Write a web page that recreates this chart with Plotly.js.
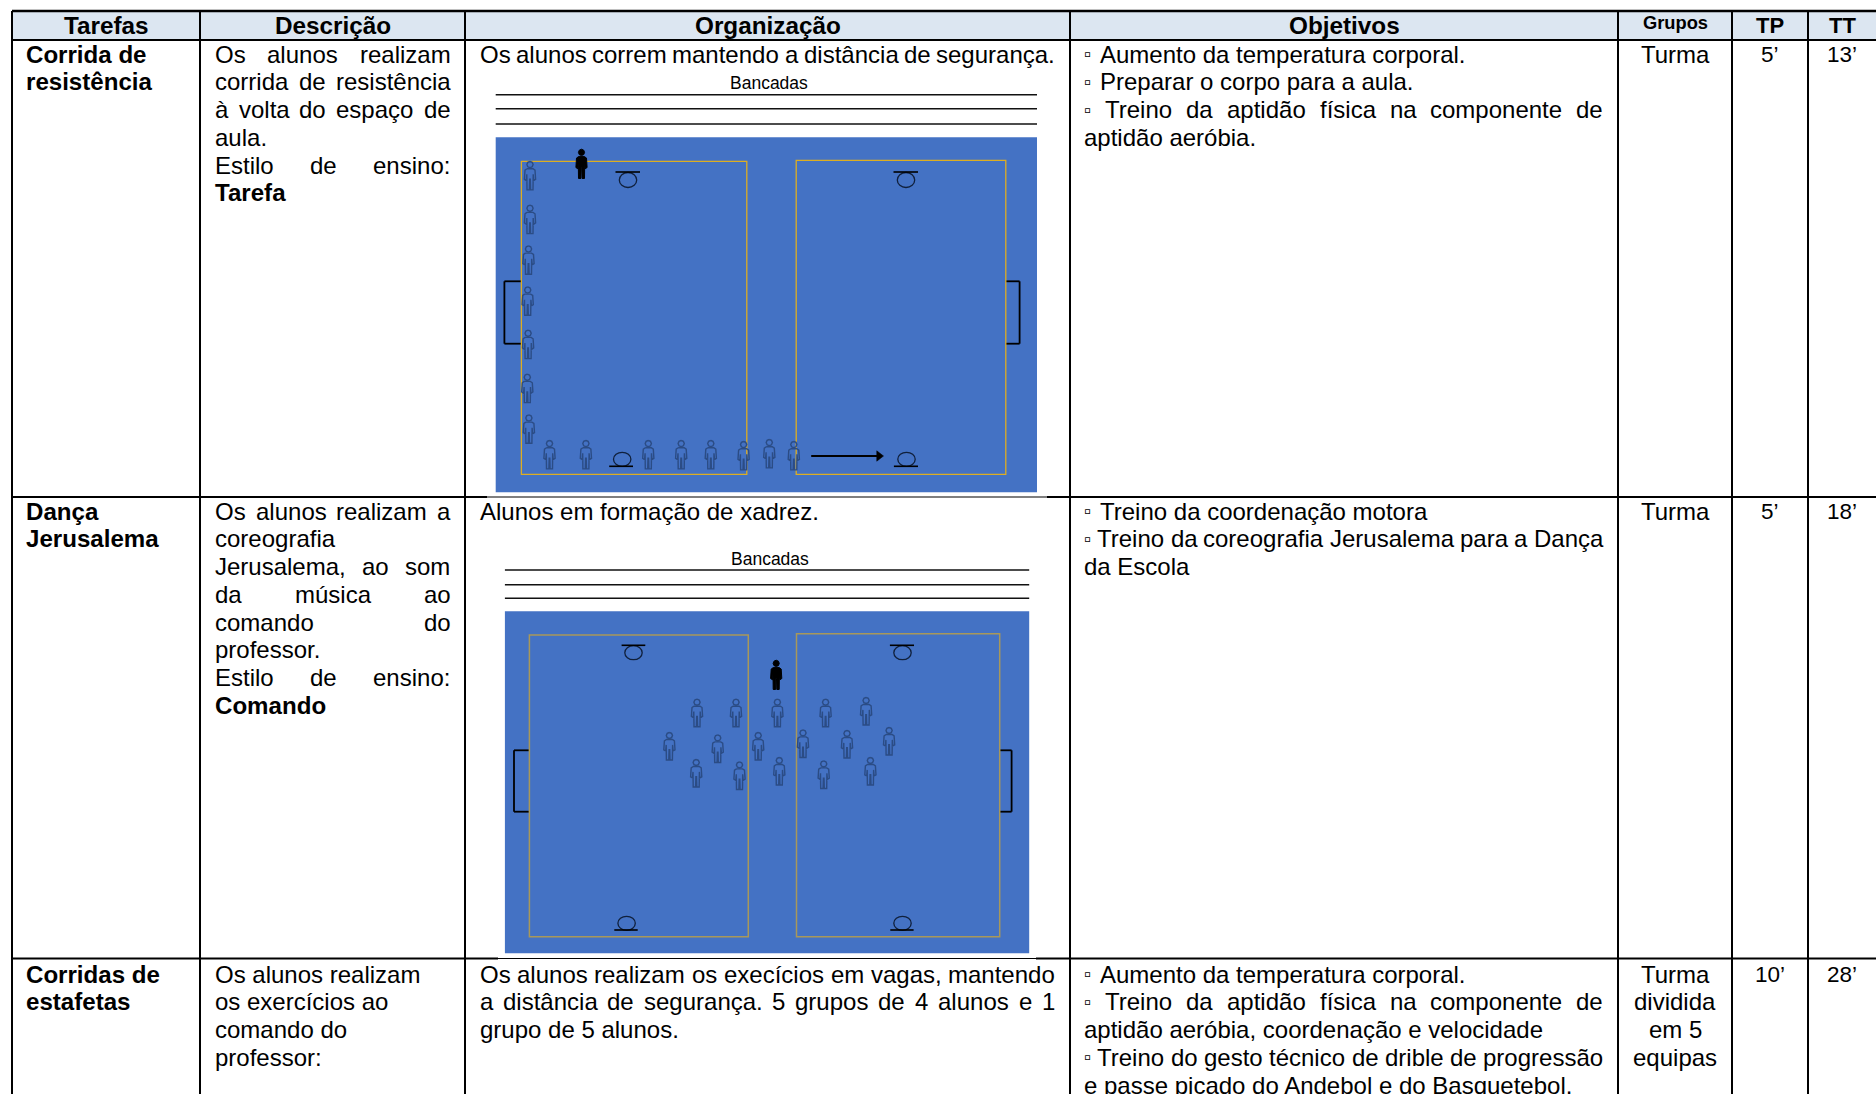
<!DOCTYPE html>
<html><head><meta charset="utf-8">
<script src="https://cdn.plot.ly/plotly-3.0.1.min.js"></script>
<style>html,body{margin:0;padding:0;background:#fff;overflow:hidden}</style>
</head><body><div id="chart" style="width:1876px;height:1094px"></div>
<script>
// Table content. "~" = justified line, "*" = bold line.
const headers = ["Tarefas","Descrição","Organização","Objetivos","Grupos","TP","TT"];
const tasksRow1 = ["*Corrida de","*resistência"];
const tasksRow2 = ["*Dança","*Jerusalema"];
const tasksRow3 = ["*Corridas de","*estafetas"];
const descRow1 = ["~Os alunos realizam","~corrida de resistência","~à volta do espaço de","aula.","~Estilo de ensino:","*Tarefa"];
const descRow2 = ["~Os alunos realizam a","coreografia","~Jerusalema, ao som","~da música ao","~comando do","professor.","~Estilo de ensino:","*Comando"];
const descRow3 = ["Os alunos realizam","os exercícios ao","comando do","professor:"];
const orgRow1 = ["~Os alunos correm mantendo a distância de segurança."];
const orgRow2 = ["Alunos em formação de xadrez."];
const orgRow3 = ["~Os alunos realizam os execícios em vagas, mantendo","~a distância de segurança. 5 grupos de 4 alunos e 1","grupo de 5 alunos."];
const objRow1 = ["▫ Aumento da temperatura corporal.","▫ Preparar o corpo para a aula.","~▫ Treino da aptidão física na componente de","aptidão aeróbia."];
const objRow2 = ["▫ Treino da coordenação motora","~▫ Treino da coreografia Jerusalema para a Dança","da Escola"];
const objRow3 = ["▫ Aumento da temperatura corporal.","~▫ Treino da aptidão física na componente de","aptidão aeróbia, coordenação e velocidade","~▫ Treino do gesto técnico de drible de progressão","e passe picado do Andebol e do Basquetebol."];
const groupsRow1 = ["Turma"], groupsRow2 = ["Turma"], groupsRow3 = ["Turma","dividida","em 5","equipas"];
const tpValues = ["5’","5’","10’"];
const ttValues = ["13’","18’","28’"];

// Student and teacher positions on the two court diagrams (centre x, top y).
const studentsAX = [530,530,528.5,527.7,528.1,527.3,528.9,549.5,585.9,648.3,681.2,710.8,743.6,769.3,793.8];
const studentsAY = [161.3,205,245.7,286.7,330,374,414.7,440.3,440.3,440.3,440.3,440.3,441.3,439.3,441.3];
const studentsBX = [697,736,777.4,825.6,866.1,669.4,717.7,758.2,803,847,889.1,696.2,739.5,779.3,823.7,870.4];
const studentsBY = [699,699,699,699,697.3,732.3,734.7,732.3,729.7,730.3,727.3,759.3,761.7,757.3,760.7,757.3];
const teacherX = [581.5,776.2];
const teacherY = [149,660];
const arrowX = [811.2,879];
const arrowY = [456,456];

const FONT = '"Liberation Sans", Arial, sans-serif';
const SIZE = 24;
const BOLD_SIZE = 24.1;
const BULLET_SIZE = 20;
const BULLET_GAP = 16;
const BLACK = '#000000';
const ctx = document.createElement('canvas').getContext('2d');
function textWidth(t,bold,size){ctx.font=(bold?'bold ':'')+size+'px "Liberation Sans"';return ctx.measureText(t).width;}

const annotations = [];
function put(text,x,y,opts){
  opts = opts||{};
  annotations.push({xref:'x',yref:'y',x:x,y:y,text:opts.bold?'<b>'+text+'</b>':text,showarrow:false,
    xanchor:opts.anchor||'left',yanchor:'middle',align:opts.anchor==='center'?'center':'left',borderpad:0,borderwidth:0,
    font:{family:FONT,size:opts.size||(opts.bold?BOLD_SIZE:SIZE),color:BLACK}});
}
function block(lines,left,right,top,step,anchor){
  lines.forEach((raw,i)=>{
    const y = top+i*step;
    let t = raw, just=false, bold=false;
    if(t[0]==='~'){just=true;t=t.slice(1);}
    if(t[0]==='*'){bold=true;t=t.slice(1);}
    const size = bold?BOLD_SIZE:SIZE;
    if(anchor==='center'){put(t,left,y,{anchor:'center',bold});return;}
    if(!just){
      if(t[0]==='▫'){
        put('▫',left,y,{size:BULLET_SIZE});
        put(t.slice(2),left+BULLET_GAP,y,{});
      } else put(t,left,y,{bold});
      return;
    }
    const words = t.split(' ');
    const widths = words.map(w=>w==='▫'?textWidth(w,false,BULLET_SIZE):textWidth(w,bold,size));
    const gap = (right-left-widths.reduce((a,b)=>a+b,0))/(words.length-1);
    let x = left;
    words.forEach((w,k)=>{put(w,x,y,w==='▫'?{size:BULLET_SIZE}:{bold});x+=widths[k]+gap;});
  });
}

// Column and row positions
const colX = [12,200,465,1070,1618,1732,1808,1876];
const rowTop = [11,40,497,958.5];
const rowText = [54,511,974];
const STEP = 27.75;

const shapes = [];
function rect(x0,y0,x1,y1,fill,color,w){shapes.push({type:'rect',layer:'below',xref:'x',yref:'y',x0,y0,x1,y1,fillcolor:fill,line:{color:color||fill,width:w===undefined?0:w}});}
function line(x0,y0,x1,y1,w,color){shapes.push({type:'line',layer:'below',xref:'x',yref:'y',x0,y0,x1,y1,line:{color:color||BLACK,width:w}});}
function hoop(cx,cy,rx,ry,barX0,barX1,barY){
  shapes.push({type:'circle',layer:'below',xref:'x',yref:'y',x0:cx-rx,x1:cx+rx,y0:cy-ry,y1:cy+ry,fillcolor:'rgba(0,0,0,0)',line:{color:'#10203c',width:1.3}});
  line(barX0,barY,barX1,barY,1.6);
}

// Header band
rect(colX[0],rowTop[0],colX[7],rowTop[1],'#DCE6F1');

// Court diagrams
function court(c){
  c.benches.forEach(y=>line(c.x0,y,c.x1,y,1.6,'#111111'));
  rect(c.x0,c.top,c.x1,c.bottom,'#4472C4');
  line(c.gl,c.gt,c.gi,c.gt,1.8); line(c.gl,c.gt,c.gl,c.gb,1.8); line(c.gl,c.gb,c.gi,c.gb,1.8);
  line(c.gr,c.gt,c.gj,c.gt,1.8); line(c.gr,c.gt,c.gr,c.gb,1.8); line(c.gr,c.gb,c.gj,c.gb,1.8);
  rect(c.lx0,c.ly0,c.lx1,c.yb,'rgba(0,0,0,0)',c.yellow,c.yw);
  rect(c.rx0,c.ry0,c.rx1,c.yb,'rgba(0,0,0,0)',c.yellow,c.yw);
  c.hoops.forEach(h=>hoop.apply(null,h));
}
court({benches:[94.7,108.7,124],x0:495.7,x1:1037,top:137.3,bottom:492.3,gl:504.4,gi:521.4,gt:281.3,gb:343.7,gr:1019.6,gj:1005.8,
  lx0:521.4,lx1:746.8,ly0:161.3,rx0:796.2,rx1:1005.8,ry0:160.3,yb:474.3,yellow:'#DDAE22',yw:1.3,
  hoops:[[628,180,8.7,7.5,615.5,640,172],[906,180,8.7,7.5,893.5,918,172],[622.2,459.3,8.7,7,609.2,633,466.3],[906.5,459.3,8.7,7,893.9,918,466.3]]});
court({benches:[570,584.7,598.3],x0:504.9,x1:1029.2,top:611.3,bottom:953.3,gl:514,gi:529.4,gt:750.3,gb:811.7,gr:1011.6,gj:999.7,
  lx0:529.4,lx1:748.3,ly0:635,rx0:796.5,rx1:999.7,ry0:633.7,yb:936.7,yellow:'#A8985A',yw:1.5,
  hoops:[[633.5,652.7,8.7,7,621.6,645.3,645.3],[902.5,652.7,8.7,7,889.9,914,645.3],[626.6,923.3,8.7,7,614.3,637.7,930],[902.5,923.3,8.7,7,890.3,913.6,930]]});

// Table grid
const GRID = 2;
line(colX[0],rowTop[0],colX[7],rowTop[0],GRID+0.5);
line(colX[0],rowTop[1],colX[7],rowTop[1],GRID);
colX.slice(0,7).forEach(x=>line(x,rowTop[0],x,1094,GRID));
[[487,1047],[498,1036]].forEach((gap,i)=>{
  const y = rowTop[i+2];
  line(colX[0],y,gap[0],y,GRID); line(gap[0],y,gap[1],y,1.1); line(gap[1],y,colX[7],y,GRID);
});

// Text
const headerCentres = colX.slice(0,7).map((x,i)=>(x+colX[i+1])/2);
const headerSizes = [24.3,24.3,24.3,24.3,18.3,22,22];
const headerYs = [25,25,25,25,22.5,25,25];
headers.forEach((h,i)=>put(h,headerCentres[i],headerYs[i],{anchor:'center',bold:true,size:headerSizes[i]}));
put('Bancadas',769.3,82.7,{anchor:'center',size:17.5});
put('Bancadas',769.7,559.3,{anchor:'center',size:17.5});
[[tasksRow1,descRow1,orgRow1,objRow1,groupsRow1],[tasksRow2,descRow2,orgRow2,objRow2,groupsRow2],[tasksRow3,descRow3,orgRow3,objRow3,groupsRow3]].forEach((r,i)=>{
  const y = rowText[i];
  block(r[0],25.8,190,y,STEP);
  block(r[1],215,450.5,y,STEP);
  block(r[2],479.5,1055,y,STEP);
  block(r[3],1084,1603,y,STEP);
  block(r[4],headerCentres[4],0,y,STEP,'center');
  put(tpValues[i],headerCentres[5],y,{anchor:'center',size:22.5});
  put(ttValues[i],headerCentres[6],y,{anchor:'center',size:22.5});
});

// Person glyph outline, built around each position
const headPts = [[0,0.2],[2.2,1.1],[3.1,3.3],[2.2,5.5],[0,6.4],[-2.2,5.5],[-3.1,3.3],[-2.2,1.1],[0,0.2]];
const bodyPts = [[-3,7.4],[3,7.4],[5,8.8],[5.6,18],[3.7,19.2],[3.2,13],[3,28.6],[0.6,28.6],[0.3,18],[-0.3,18],[-0.6,28.6],[-3,28.6],[-3.2,13],[-3.7,19.2],[-5.6,18],[-5,8.8],[-3,7.4]];
function glyphs(xs,ys,scale){
  const gx=[],gy=[];
  xs.forEach((x,i)=>{
    [headPts,bodyPts].forEach(poly=>{
      poly.forEach(p=>{gx.push(x+p[0]);gy.push(ys[i]+p[1]*scale);});
      gx.push(null);gy.push(null);
    });
  });
  return {x:gx,y:gy};
}
const studentLine = {color:'#2B4C85',width:1.4};
const data = [
  Object.assign(glyphs(studentsAX,studentsAY,1),{type:'scatter',mode:'lines',line:studentLine,hoverinfo:'skip',showlegend:false}),
  Object.assign(glyphs(studentsBX,studentsBY,0.97),{type:'scatter',mode:'lines',line:studentLine,hoverinfo:'skip',showlegend:false}),
  Object.assign(glyphs(teacherX,teacherY,1.03),{type:'scatter',mode:'lines',fill:'toself',fillcolor:BLACK,line:{color:BLACK,width:1},hoverinfo:'skip',showlegend:false}),
  {type:'scatter',mode:'lines',x:arrowX,y:arrowY,line:{color:BLACK,width:2},hoverinfo:'skip',showlegend:false},
  {type:'scatter',mode:'markers',x:arrowX.slice(1),y:arrowY.slice(1),marker:{symbol:'triangle-right',size:9,color:BLACK,line:{color:BLACK,width:0.5}},hoverinfo:'skip',showlegend:false}
];

const axis = {visible:false,fixedrange:true,showgrid:false,zeroline:false};
Plotly.newPlot('chart',data,{
  width:1876,height:1094,margin:{l:0,r:0,t:0,b:0},showlegend:false,
  paper_bgcolor:'#ffffff',plot_bgcolor:'#ffffff',
  xaxis:Object.assign({range:[0,1876]},axis),
  yaxis:Object.assign({range:[1094,0]},axis),
  shapes,annotations
},{displayModeBar:false,staticPlot:true});
</script></body></html>
